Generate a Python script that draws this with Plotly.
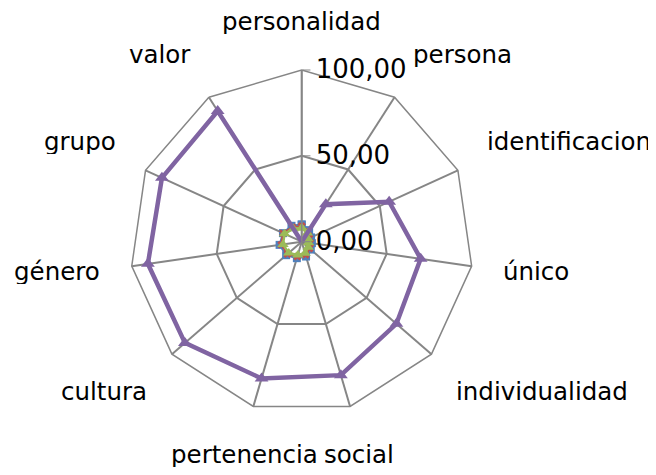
import math
import plotly.graph_objects as go

categories = ["personalidad", "persona", "identificacion", "único", "individualidad",
              "social", "pertenencia", "cultura", "género", "grupo", "valor"]

serie1 = [10, 8, 6, 6, 7, 9, 10, 12, 13, 12, 11]   # blue
serie2 = [9, 7, 5, 5, 6, 8, 9, 11, 12, 12, 10]     # red
serie3 = [8, 6, 4, 4, 5, 7, 8, 10, 11, 11, 9]      # green
serie4 = [0, 26, 56, 70, 73, 81, 83, 90, 90.5, 89.5, 90.5]  # purple

tick_vals = [0, 50, 100]
tick_text = ["0,00", "50,00", "100,00"]

GRID = "#868686"
FONT = "DejaVu Sans"
OFF = 8  # page body margin
W, H = 656 - OFF, 475 - OFF

def closed(v):
    return list(v) + [v[0]]

cats_closed = closed(categories)

fig = go.Figure()
specs = [
    (serie1, "#4F81BD", "square", 8, 2),
    (serie2, "#C0504D", "x", 7, 2),
    (serie3, "#9BBB59", "triangle-up", 10, 2.5),
    (serie4, "#8064A2", "triangle-up", 12, 4.5),
]
for vals, col, sym, ms, lw in specs:
    fig.add_trace(go.Scatterpolar(
        r=closed(vals), theta=cats_closed, mode="lines+markers",
        line=dict(color=col, width=lw),
        marker=dict(color=col, symbol=sym, size=ms),
        showlegend=False,
    ))

# chart geometry in figure pixels
cx, cy, R = 301.7 - OFF, 241.7 - OFF, 171.7
padx, pady = 30, 34
n = len(categories)
annotations = []
for i, name in enumerate(categories):
    a = 2 * math.pi * i / n
    s, c = math.sin(a), math.cos(a)
    px = cx + (R + padx) * s
    py = cy - (R + pady) * c
    xa = "left" if s > 0.3 else ("right" if s < -0.3 else "center")
    ya = "bottom" if c > 0.3 else ("top" if c < -0.3 else "middle")
    annotations.append(dict(
        text=name, x=px / W, y=1 - py / H, xref="paper", yref="paper",
        xanchor=xa, yanchor=ya, showarrow=False, height=26, valign="middle",
        font=dict(size=24.5, family=FONT, color="black"),
    ))

fig.update_layout(
    width=W, height=H,
    margin=dict(l=0, r=0, t=0, b=0),
    paper_bgcolor="white",
    font=dict(family=FONT, size=25, color="black"),
    annotations=annotations,
    polar=dict(
        domain=dict(x=[(cx - R) / W, (cx + R) / W],
                    y=[1 - (cy + R) / H, 1 - (cy - R) / H]),
        bgcolor="white",
        gridshape="linear",
        angularaxis=dict(
            direction="clockwise", rotation=90,
            showline=True, linecolor=GRID, linewidth=1.5,
            gridcolor=GRID, gridwidth=1.5,
            ticks="", showticklabels=False,
        ),
        radialaxis=dict(
            range=[0, 100], angle=90, tickangle=90,
            tickvals=tick_vals, ticktext=tick_text,
            showline=True, linecolor=GRID, linewidth=1.5,
            gridcolor=GRID, gridwidth=1.5,
            ticks="outside", ticklen=8, tickcolor=GRID,
            side="clockwise",
            tickfont=dict(size=26, family=FONT, color="black"),
        ),
    ),
)

fig.write_html("out.html")
